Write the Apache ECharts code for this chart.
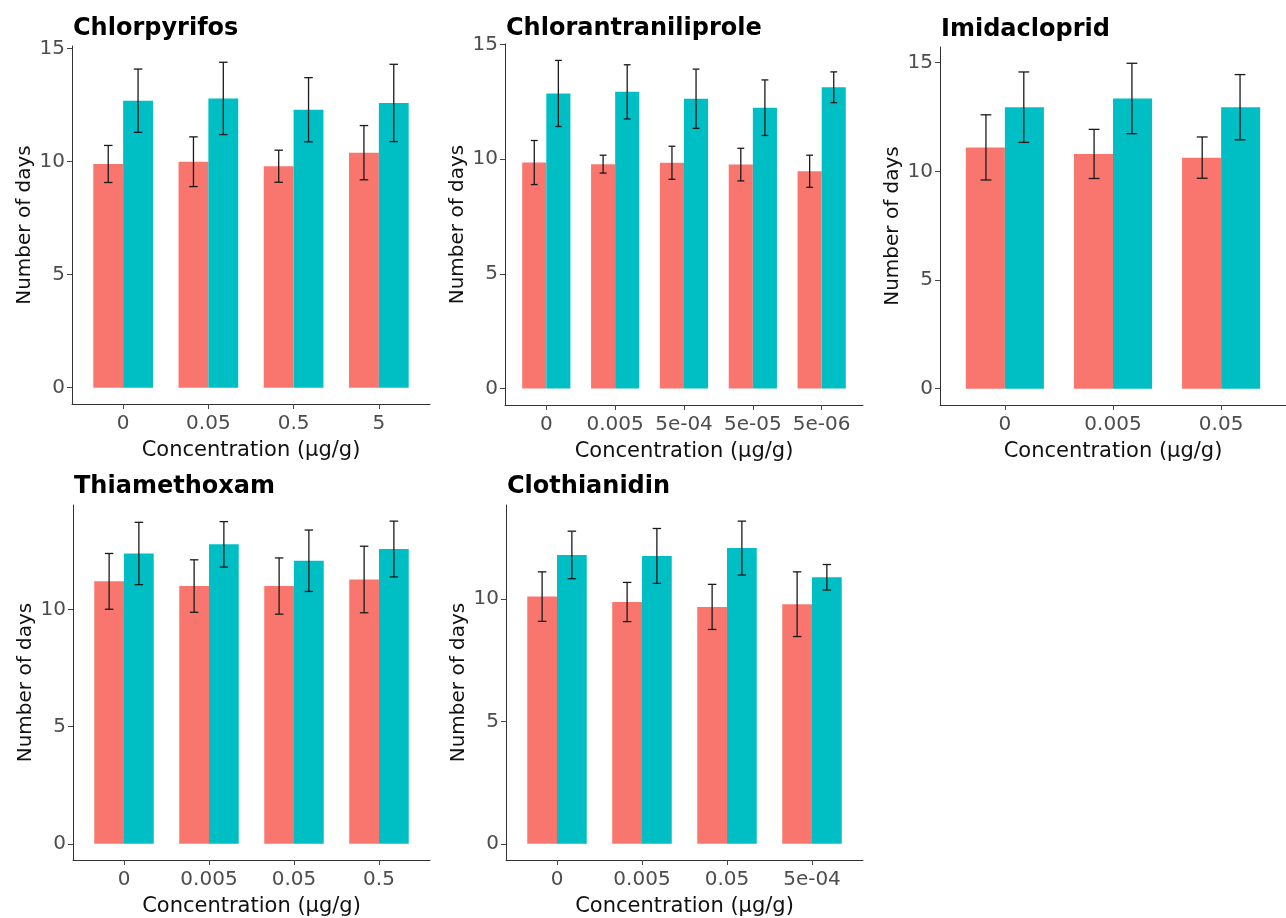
<!DOCTYPE html>
<html>
<head>
    <meta charset="utf-8"/>
    <title>Number of days by concentration</title>
    <script src="https://cdn.jsdelivr.net/npm/echarts@6/dist/echarts.min.js"></script>
    <style>
        html, body { margin: 0; padding: 0; background: #fff; }
        #main { width: 1286px; height: 918px; }
    </style>
</head>
<body>
<div id="main"></div>
<script type="text/javascript">
    // ---- data (mean and sd) ----
    var chlorpyrifosCats = ['0', '0.05', '0.5', '5']
    var chlorpyrifosRed = [9.9, 10.0, 9.8, 10.4]
    var chlorpyrifosRedSd = [0.82, 1.10, 0.71, 1.20]
    var chlorpyrifosTeal = [12.7, 12.8, 12.3, 12.6]
    var chlorpyrifosTealSd = [1.40, 1.60, 1.42, 1.71]

    var chlorantCats = ['0', '0.005', '5e-04', '5e-05', '5e-06']
    var chlorantRed = [9.85, 9.78, 9.84, 9.76, 9.47]
    var chlorantRedSd = [0.96, 0.39, 0.72, 0.71, 0.70]
    var chlorantTeal = [12.86, 12.93, 12.63, 12.24, 13.13]
    var chlorantTealSd = [1.44, 1.18, 1.29, 1.21, 0.67]

    var imidaCats = ['0', '0.005', '0.05']
    var imidaRed = [11.1, 10.8, 10.63]
    var imidaRedSd = [1.50, 1.13, 0.95]
    var imidaTeal = [12.95, 13.35, 12.95]
    var imidaTealSd = [1.62, 1.62, 1.50]

    var thiaCats = ['0', '0.005', '0.05', '0.5']
    var thiaRed = [11.2, 11.0, 11.0, 11.28]
    var thiaRedSd = [1.19, 1.12, 1.20, 1.42]
    var thiaTeal = [12.39, 12.78, 12.08, 12.58]
    var thiaTealSd = [1.33, 0.97, 1.31, 1.19]

    var clothCats = ['0', '0.005', '0.05', '5e-04']
    var clothRed = [10.09, 9.87, 9.67, 9.78]
    var clothRedSd = [1.01, 0.80, 0.92, 1.32]
    var clothTeal = [11.79, 11.75, 12.07, 10.88]
    var clothTealSd = [0.97, 1.12, 1.10, 0.52]

    var yTickValues = [0, 5, 10, 15]

    // panel layout: [left, top, width, height] of the plot area, title top
    var panels = [
        {title: 'Chlorpyrifos', cats: chlorpyrifosCats, red: chlorpyrifosRed, redSd: chlorpyrifosRedSd,
            teal: chlorpyrifosTeal, tealSd: chlorpyrifosTealSd, box: [72, 46, 358, 358], titleTop: 17},
        {title: 'Chlorantraniliprole', cats: chlorantCats, red: chlorantRed, redSd: chlorantRedSd,
            teal: chlorantTeal, tealSd: chlorantTealSd, box: [505, 44, 358, 361], titleTop: 17},
        {title: 'Imidacloprid', cats: imidaCats, red: imidaRed, redSd: imidaRedSd,
            teal: imidaTeal, tealSd: imidaTealSd, box: [940, 47, 357, 358], titleTop: 18},
        {title: 'Thiamethoxam', cats: thiaCats, red: thiaRed, redSd: thiaRedSd,
            teal: thiaTeal, tealSd: thiaTealSd, box: [73, 505, 357, 358], titleTop: 475},
        {title: 'Clothianidin', cats: clothCats, red: clothRed, redSd: clothRedSd,
            teal: clothTeal, tealSd: clothTealSd, box: [506, 505, 357, 358], titleTop: 475}
    ]

    var RED = '#F8766D'
    var TEAL = '#00BFC4'
    var FONT = 'DejaVu Sans'

    function errorBarSeries(k, means, sds, offset) {
        return {
            type: 'custom',
            xAxisIndex: k,
            yAxisIndex: k,
            z: 5,
            data: means.map(function (m, i) { return [i, m - sds[i], m + sds[i]] }),
            encode: {x: 0, y: [1, 2]},
            renderItem: function (params, api) {
                var x = api.value(0) + offset
                var lo = api.value(1)
                var hi = api.value(2)
                var top = api.coord([x, hi])
                var bot = api.coord([x, lo])
                var tl = api.coord([x - 0.05, hi])
                var tr = api.coord([x + 0.05, hi])
                var bl = api.coord([x - 0.05, lo])
                var br = api.coord([x + 0.05, lo])
                var style = {stroke: '#1a1a1a', lineWidth: 1.3}
                return {
                    type: 'group',
                    children: [
                        {type: 'line', shape: {x1: top[0], y1: top[1], x2: bot[0], y2: bot[1]}, style: style},
                        {type: 'line', shape: {x1: tl[0], y1: tl[1], x2: tr[0], y2: tr[1]}, style: style},
                        {type: 'line', shape: {x1: bl[0], y1: bl[1], x2: br[0], y2: br[1]}, style: style}
                    ]
                }
            }
        }
    }

    var option = {
        backgroundColor: '#fff',
        animation: false,
        title: [], grid: [], xAxis: [], yAxis: [], series: []
    }

    panels.forEach(function (p, k) {
        var n = p.cats.length
        var box = p.box
        var ticks = p.cats.map(function (c, i) { return i })
        var upper = 0
        p.red.forEach(function (v, i) { upper = Math.max(upper, v + p.redSd[i]) })
        p.teal.forEach(function (v, i) { upper = Math.max(upper, v + p.tealSd[i]) })
        var ymax = upper * 1.05
        var ymin = -upper * 0.05
        var yTicks = yTickValues.filter(function (v) { return v <= ymax })
        var barW = box[2] / (n + 0.2) * 0.35

        option.title.push({
            text: p.title, left: box[0] + 1, top: p.titleTop, padding: 0,
            textStyle: {fontFamily: FONT, fontWeight: 'bold', fontSize: 24, color: '#000'}
        })
        option.grid.push({left: box[0], top: box[1], width: box[2], height: box[3]})
        option.xAxis.push({
            type: 'value', gridIndex: k, min: -0.6, max: n - 0.4,
            name: 'Concentration (µg/g)', nameLocation: 'middle', nameGap: 36,
            nameTextStyle: {fontFamily: FONT, fontSize: 21, color: '#111'},
            axisLine: {onZero: false, lineStyle: {color: '#333', width: 1}},
            axisTick: {customValues: ticks, length: 5, lineStyle: {color: '#444'}},
            axisLabel: {
                customValues: ticks, margin: 10, fontFamily: FONT, fontSize: 20, color: '#4D4D4D',
                formatter: function (v) { return p.cats[Math.round(v)] }
            },
            splitLine: {show: false}
        })
        option.yAxis.push({
            type: 'value', gridIndex: k, min: ymin, max: ymax,
            name: 'Number of days', nameLocation: 'middle', nameGap: 37,
            nameTextStyle: {fontFamily: FONT, fontSize: 20, color: '#111'},
            axisLine: {show: true, onZero: false, lineStyle: {color: '#333', width: 1}},
            axisTick: {show: true, customValues: yTicks, length: 5, lineStyle: {color: '#444'}},
            axisLabel: {customValues: yTicks, margin: 7, fontFamily: FONT, fontSize: 20, color: '#4D4D4D'},
            splitLine: {show: false}
        })
        option.series.push({
            type: 'bar', xAxisIndex: k, yAxisIndex: k, barWidth: barW, barGap: '0%',
            data: p.red.map(function (v, i) { return [i, v] }),
            itemStyle: {color: RED}
        })
        option.series.push({
            type: 'bar', xAxisIndex: k, yAxisIndex: k, barWidth: barW, barGap: '0%',
            data: p.teal.map(function (v, i) { return [i, v] }),
            itemStyle: {color: TEAL}
        })
        option.series.push(errorBarSeries(k, p.red, p.redSd, -0.175))
        option.series.push(errorBarSeries(k, p.teal, p.tealSd, 0.175))
    })

    var chart = echarts.init(document.getElementById('main'))
    chart.setOption(option)
</script>
</body>
</html>
